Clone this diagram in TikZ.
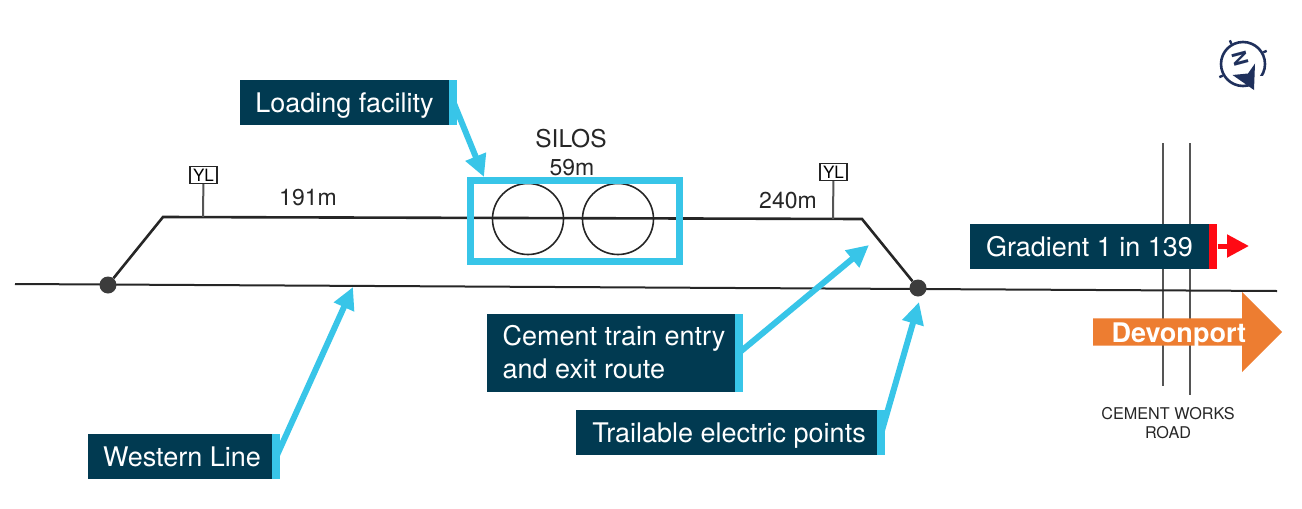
\documentclass[tikz,border=0pt]{standalone}
\usepackage{fontspec}
\setmainfont{TeX Gyre Heros}
\usepackage{xcolor}
\usepackage{tikz}
\usetikzlibrary{arrows.meta,positioning,shapes.geometric,shapes.arrows}
\definecolor{calloutnavy}{RGB}{1,58,81}
\definecolor{pointercyan}{RGB}{56,197,232}
\definecolor{devonorange}{RGB}{237,125,49}
\definecolor{gradientred}{RGB}{255,10,20}
\definecolor{trackblack}{RGB}{38,38,38}
\definecolor{roadgray}{RGB}{85,85,85}
\definecolor{compassnavy}{RGB}{31,48,92}

\begin{document}
\begin{tikzpicture}[
  x=1pt, y=-1pt,
  callout/.style={fill=calloutnavy, text=white, inner sep=0pt, minimum height=45pt, align=left, font=\fontsize{27}{33}\selectfont},
  oneline/.style={text height=20pt, text depth=0pt},
  tab/.style={fill=pointercyan, inner sep=0pt, minimum width=8pt, minimum height=45pt, right=0pt of #1},
  pointer/.style={draw=pointercyan, line width=6pt, -{Triangle[length=22pt,width=21pt]}},
  track/.style={draw=trackblack, line width=2.6pt},
  road/.style={draw=roadgray, line width=2pt},
  silo/.style={circle, draw=trackblack, line width=1.6pt, minimum size=71pt, inner sep=0pt},
  yardsign/.style={draw=trackblack, fill=white, line width=1.4pt, inner sep=0pt, minimum width=27pt, minimum height=17pt, font=\fontsize{17}{17}\selectfont},
  points/.style={circle, fill=trackblack!90, minimum size=17pt, inner sep=0pt},
  plan/.style={text=trackblack, font=\fontsize{23}{23}\selectfont},
  roadtext/.style={text=trackblack, font=\fontsize{16.2}{16.2}\selectfont}
]
\useasboundingbox (0,0) rectangle (1302,509);

% road and main line
\coordinate (roadAtop) at (1163,143);
\coordinate (roadAend) at (1163,386);
\coordinate (roadBtop) at (1190,143);
\coordinate (roadBend) at (1190,395);
\draw[road] (roadAtop) -- (roadAend);
\draw[road] (roadBtop) -- (roadBend);
\coordinate (mainW) at (15,284);
\coordinate (mainE) at (1277,291);
\draw[track, line width=2pt] (mainW) -- (mainE);

% siding
\node[points] (pointsW) at (108,285) {};
\node[points] (pointsE) at (918,288) {};
\coordinate (sidingW) at (163,217);
\coordinate (sidingE) at (862,219);
\draw[track] (pointsW) -- (sidingW) -- (sidingE) -- (pointsE);

\node[yardsign] (signW) at (203.5,175) {YL};
\node[yardsign] (signE) at (833.5,172) {YL};
\coordinate (footW) at (203,217);
\coordinate (footE) at (833,219);
\draw[road] (signW) -- (footW);
\draw[road] (signE) -- (footE);

\node[silo] (siloA) at (528,219) {};
\node[silo] (siloB) at (618,219) {};
\node[draw=pointercyan, line width=7pt, minimum width=209pt, minimum height=81pt] (siloframe) at (575,221) {};

\node[plan, font=\fontsize{24.5}{24.5}\selectfont] (silotitle) at (571,139) {SILOS};
\node[plan] (silolen) at (572,168) {59m};
\node[plan] (lenW) at (308,198) {191m};
\node[plan] (lenE) at (788,201) {240m};
\node[roadtext] (roadtextA) at (1168,414) {CEMENT WORKS};
\node[roadtext] (roadtextB) at (1168,433) {ROAD};

% callouts
\node[callout, oneline, minimum width=209pt] (loading) at (344.5,102) {Loading facility};
\node[tab=loading] (loadingtab) {};
\node[callout, oneline, minimum width=184pt] (western) at (180,456.5) {\hspace*{4pt}Western Line};
\node[tab=western] (westerntab) {};
\node[callout, minimum width=248pt, minimum height=78pt] (cement) at (611,352.5) {\hspace*{6pt}Cement train entry\\\hspace*{6pt}and exit route};
\node[tab=cement, minimum height=78pt] (cementtab) {};
\node[callout, oneline, minimum width=301pt] (trailable) at (726.5,432.5) {\hspace*{5pt}Trailable electric points};
\node[tab=trailable] (trailabletab) {};
\node[callout, oneline, minimum width=239pt] (gradient) at (1089.5,246) {Gradient 1 in 139};
\node[tab=gradient, fill=gradientred] (gradienttab) {};

\coordinate (loadinghit) at (484,177);
\coordinate (westernhit) at (353,287);
\coordinate (cementhit) at (869,245);
\coordinate (trailablehit) at (919,302);
\coordinate (gradienthit) at (1249,246);
\draw[pointer] (loadingtab.center) -- (loadinghit);
\draw[pointer] (westerntab.center) -- (westernhit);
\draw[pointer] (cementtab.center) -- (cementhit);
\draw[pointer] (trailabletab.center) -- (trailablehit);
\draw[draw=gradientred, line width=5pt, -{Triangle[length=22pt,width=22pt]}] (gradienttab.east) -- (gradienthit);

% direction arrow
\node[single arrow, oneline, fill=devonorange, text=white, inner sep=0pt, anchor=west,
  minimum height=189pt, minimum width=80pt, single arrow head extend=19.5pt,
  single arrow tip angle=90, font=\fontsize{27}{27}\selectfont\bfseries] (devonport) at (1093,332) {\hspace*{-4pt}Devonport};

% compass logo
\node[circle, draw=compassnavy, line width=2.6pt, minimum size=44pt, inner sep=0pt] (compass) at (1243,64) {};
\draw[compassnavy, line width=2.4pt] (compass.120) -- ++(-1.5,-3.5);
\draw[compassnavy, line width=2.4pt] (compass.30) -- ++(3.5,-1.5);
\draw[compassnavy, line width=2.4pt] (compass.210) -- ++(-3.5,1.5);
\node[fill=white, inner sep=0pt, minimum size=11pt] (compassgap) at (compass.310) {};
\node[text=compassnavy, inner sep=0pt, rotate=-75, font=\fontsize{20}{20}\selectfont\bfseries] (compassN) at (1240,59) {N};
\fill[compassnavy] (1255,63.5) -- (1254,90) -- (1232.5,75) -- (1248,73.5) -- cycle;
\end{tikzpicture}
\end{document}
